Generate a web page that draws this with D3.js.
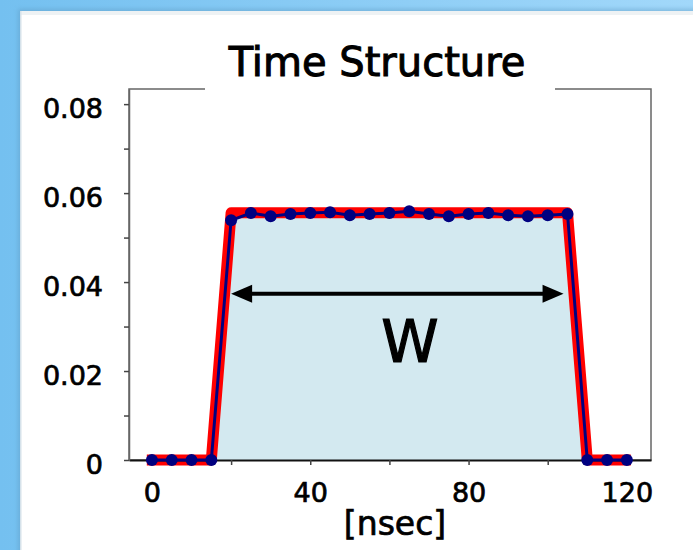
<!DOCTYPE html>
<html>
<head>
<meta charset="utf-8" />
<title>Time Structure</title>
<style>
body {
	margin: 0;
	padding: 0;
	background-color: #fff;
}
svg {
	display: block;
}
text {
	font-family: "DejaVu Sans", sans-serif;
	fill: #000;
	stroke: #000;
	stroke-width: 0.7px;
}
</style>
</head>
<body>
<svg></svg>
<script src="https://d3js.org/d3.v7.min.js"></script>
<script>

/* data */
// measured pulse, one point every 5 ns
var times = [0,5,10,15,20,25,30,35,40,45,50,55,60,65,70,75,80,85,90,95,100,105,110,115,120];
var amplitudes = [0,0,0,0,0.0539,0.0555,0.0548,0.0553,0.0555,0.0557,0.0550,0.0553,0.0555,0.0559,0.0553,0.0548,0.0553,0.0555,0.0550,0.0548,0.0550,0.0553,0,0,0];

// fitted trapezoid (red band)
var fitTimes = [-1.3,15,20,105,110,121];
var fitValues = [0,0,0.0556,0.0556,0,0];

// width arrow
var arrowFrom = 20, arrowTo = 104, arrowLevel = 0.0374;

var xTicks = [0,20,40,60,80,100,120];
var xLabels = ["0","","40","","80","","120"];
var yTicks = [0,0.01,0.02,0.03,0.04,0.05,0.06,0.07,0.08];
var yLabels = ["0","","0.02","","0.04","","0.06","","0.08"];

var w = 693, h = 550;

var svg = d3.select("svg")
	.attr("width",w)
	.attr("height",h);

var defs = svg.append("defs");
var bg = defs.append("linearGradient").attr("id","bg")
	.attr("x1","0").attr("y1","0").attr("x2","1").attr("y2","0");
bg.append("stop").attr("offset","0").attr("stop-color","#74c0f0");
bg.append("stop").attr("offset","1").attr("stop-color","#a2d8fa");
defs.append("filter").attr("id","soft")
	.append("feGaussianBlur").attr("stdDeviation",0.7);
defs.append("filter").attr("id","shadow")
	.attr("x","-5%").attr("y","-5%").attr("width","110%").attr("height","110%")
	.append("feGaussianBlur").attr("stdDeviation",2);

/* slide background + white panel */
svg.append("rect")
	.attr("width",w).attr("height",h)
	.style("fill","url(#bg)");
svg.append("rect")
	.attr("x",18).attr("y",9)
	.attr("width",w).attr("height",h)
	.style("fill","#5e9cc4")
	.style("opacity",0.5)
	.attr("filter","url(#shadow)");
svg.append("rect")
	.attr("x",20).attr("y",11)
	.attr("width",w).attr("height",h)
	.style("fill","#fff");
svg.append("rect")
	.attr("x",20).attr("y",11)
	.attr("width",w).attr("height",4)
	.style("fill","#eef2f4");
svg.append("rect")
	.attr("x",20).attr("y",11)
	.attr("width",1.5).attr("height",h)
	.style("fill","#d6e2ea");

/* scales */
var x = d3.scaleLinear().domain([-5.8,126.1]).range([129,651]);
var y = d3.scaleLinear().domain([0,0.0834]).range([460,89]);

/* box */
svg.append("rect")
	.attr("x",x.range()[0]).attr("y",y.range()[1])
	.attr("width",x.range()[1]-x.range()[0])
	.attr("height",y.range()[0]-y.range()[1])
	.style("fill","none")
	.style("stroke","#666")
	.style("stroke-width",1.5);

/* title, its white box hides the top frame line */
svg.append("rect")
	.attr("x",205).attr("y",30)
	.attr("width",350).attr("height",64)
	.style("fill","#fff");
svg.append("text")
	.attr("x",377)
	.attr("y",76)
	.style("text-anchor","middle")
	.style("font-size","40px")
	.style("stroke-width","1px")
	.text("Time Structure");

/* fill under the fitted shape */
var pairs = function(xs,ys) { return xs.map(function(d,i) { return [d,ys[i]]; }); };
var fit = pairs(fitTimes,fitValues);

svg.append("path")
	.datum(fit.slice(1,5))
	.attr("d",d3.area().x(function(d){return x(d[0]);}).y0(y(0)).y1(function(d){return y(d[1]);}))
	.style("fill","#d3e9f0");

/* red fitted band */
var line = d3.line().x(function(d){return x(d[0]);}).y(function(d){return y(d[1]);});
svg.append("path")
	.datum(fit)
	.attr("d",line)
	.style("fill","none")
	.style("stroke","#ff0000")
	.style("stroke-width",11)
	.style("stroke-linejoin","round")
	.attr("filter","url(#soft)");

/* axes */
var xAxis = d3.axisBottom(x).tickValues(xTicks)
	.tickFormat(function(d,i){return xLabels[i];})
	.tickSize(5).tickSizeOuter(0);
var gx = svg.append("g")
	.attr("transform","translate(0,"+y(0)+")")
	.call(xAxis);
gx.select(".domain").style("stroke","#111").style("stroke-width",2);
gx.selectAll(".tick line").style("stroke","#444").style("stroke-width",1.5);
gx.selectAll(".tick text")
	.attr("y",42)
	.attr("dy",0)
	.style("font-size","27px")
	.style("font-family","DejaVu Sans, sans-serif");

var yAxis = d3.axisLeft(y).tickValues(yTicks)
	.tickFormat(function(d,i){return yLabels[i];})
	.tickSize(5).tickSizeOuter(0);
var gy = svg.append("g")
	.attr("transform","translate("+x.range()[0]+",0)")
	.call(yAxis);
gy.select(".domain").style("stroke","#666").style("stroke-width",1.5);
gy.selectAll(".tick line").style("stroke","#444").style("stroke-width",1.5);
gy.selectAll(".tick text")
	.attr("x",-26)
	.attr("dy","0.5em")
	.style("font-size","27px")
	.style("font-family","DejaVu Sans, sans-serif");

/* measured points */
var pts = pairs(times,amplitudes);
svg.append("path")
	.datum(pts)
	.attr("d",line)
	.style("fill","none")
	.style("stroke","#000080")
	.style("stroke-width",3);
svg.selectAll(".pt")
	.data(pts)
	.enter()
	.append("circle")
	.attr("class","pt")
	.attr("cx",function(d){return x(d[0]);})
	.attr("cy",function(d){return y(d[1]);})
	.attr("r",6)
	.style("fill","#000080");

/* W arrow */
var ay = y(arrowLevel);
var x1 = x(arrowFrom), x2 = x(arrowTo);
var head = 21, half = 9;
svg.append("line")
	.attr("x1",x1+head-2).attr("x2",x2-head+2)
	.attr("y1",ay).attr("y2",ay)
	.style("stroke","#000")
	.style("stroke-width",4);
svg.append("path")
	.attr("d","M"+x1+","+ay+" L"+(x1+head)+","+(ay-half)+" L"+(x1+head)+","+(ay+half)+" Z")
	.style("fill","#000");
svg.append("path")
	.attr("d","M"+x2+","+ay+" L"+(x2-head)+","+(ay-half)+" L"+(x2-head)+","+(ay+half)+" Z")
	.style("fill","#000");

svg.append("text")
	.attr("x",410)
	.attr("y",362)
	.style("text-anchor","middle")
	.style("font-size","58px")
	.style("stroke-width","1.2px")
	.text("W");

/* axis title */
svg.append("text")
	.attr("x",395)
	.attr("y",535)
	.style("text-anchor","middle")
	.style("font-size","33px")
	.text("[nsec]");

</script>
</body>
</html>
